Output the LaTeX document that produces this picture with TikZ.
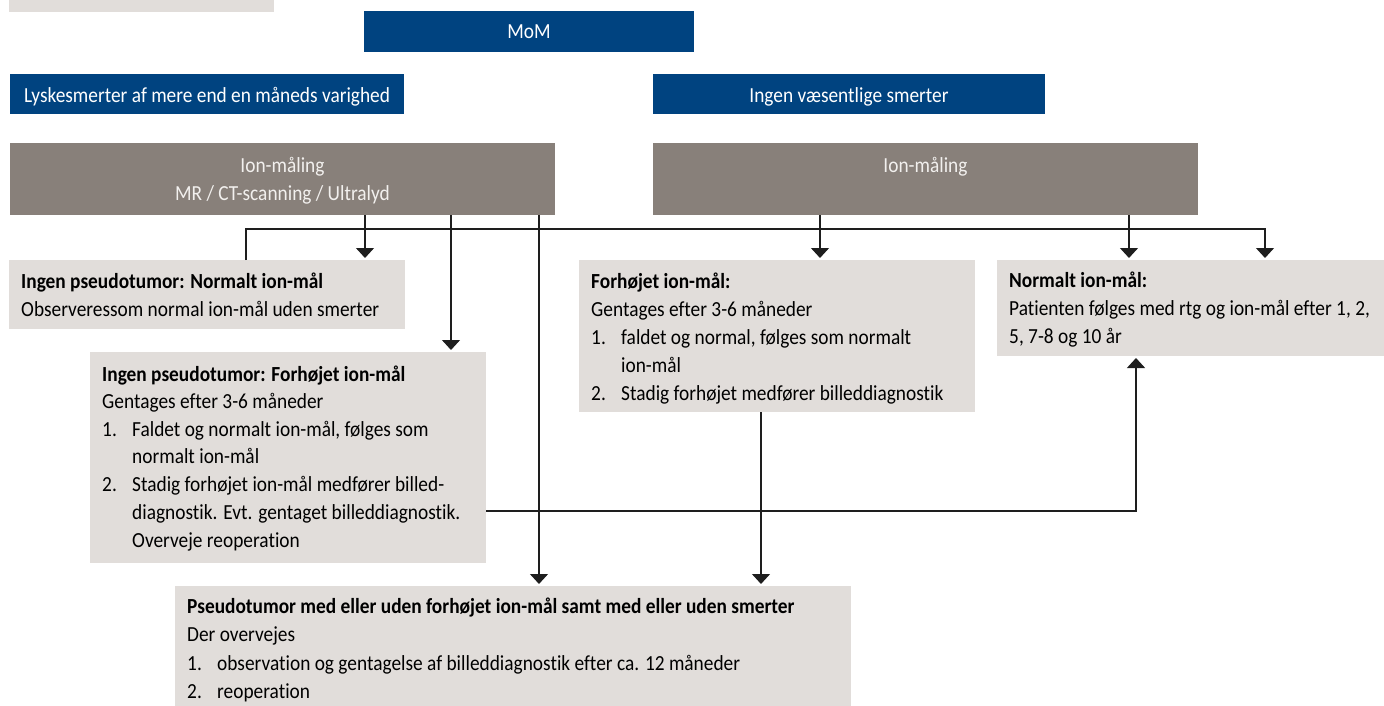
\documentclass[tikz,border=0pt]{standalone}
\usepackage{fontspec}
\setmainfont{Carlito}[FakeStretch=0.9, Ligatures=NoCommon]
\usetikzlibrary{arrows.meta}
\definecolor{rhblue}{RGB}{0,67,128}
\definecolor{rhbrown}{RGB}{136,128,122}
\definecolor{rhgray}{RGB}{225,221,218}
\definecolor{rhlight}{RGB}{242,240,238}
\definecolor{rhline}{RGB}{30,30,30}
\begin{document}
\begin{tikzpicture}[x=1pt,y=-1pt,
  box/.style={rectangle, anchor=north west, inner sep=0pt, outer sep=0pt, draw=none},
  bluebox/.style={box, fill=rhblue},
  brownbox/.style={box, fill=rhbrown},
  graybox/.style={box, fill=rhgray},
  txt/.style={anchor=base west, inner sep=0pt, font=\fontsize{21.5}{28}\selectfont},
  bold/.style={txt, font=\fontsize{21.5}{28}\selectfont\bfseries},
  ctxt/.style={txt, anchor=base},
  wtxt/.style={ctxt, text=white},
  btxt/.style={ctxt, text=rhlight},
  conn/.style={line width=1.2pt, rhline},
  arr/.style={conn, -{Triangle[width=18pt,length=10pt]}, shorten >=2pt},
]
\useasboundingbox (0,0) rectangle (1384,706);

% header boxes
\node[graybox, minimum width=265pt, minimum height=12pt] (topbox) at (9,0) {};
\node[bluebox, minimum width=330pt, minimum height=41pt] (mom) at (364,11) {};
\node[wtxt] (momt) at (529,39) {MoM};
\node[bluebox, minimum width=394pt, minimum height=40pt] (blueL) at (10,74) {};
\node[wtxt] (blueLt) at (207,103) {Lyskesmerter af mere end en måneds varighed};
\node[bluebox, minimum width=392pt, minimum height=40pt] (blueR) at (653,74) {};
\node[wtxt] (blueRt) at (849,103) {Ingen væsentlige smerter};

\node[brownbox, minimum width=545pt, minimum height=72pt] (brownL) at (10,143) {};
\node[btxt] (brownLt1) at (282.5,172) {Ion-måling};
\node[btxt] (brownLt2) at (282.5,200) {MR / CT-scanning / Ultralyd};
\node[brownbox, minimum width=545pt, minimum height=72pt] (brownR) at (653,143) {};
\node[btxt] (brownRt) at (925.5,172) {Ion-måling};

% box A
\node[graybox, minimum width=396pt, minimum height=69pt] (boxA) at (9,260) {};
\node[bold] (boxAt1) at (21,288) {Ingen pseudotumor: Normalt ion-mål};
\node[txt] (boxAt2) at (21,316) {Observeressom normal ion-mål uden smerter};

% box B
\node[graybox, minimum width=396pt, minimum height=211pt] (boxB) at (90,352) {};
\node[bold] (boxBt1) at (102,381) {Ingen pseudotumor: Forhøjet ion-mål};
\node[txt] (boxBt2) at (102,408) {Gentages efter 3-6 måneder};
\node[txt] (boxBn1) at (102,436) {1.};
\node[txt] (boxBt3) at (132,436) {Faldet og normalt ion-mål, følges som};
\node[txt] (boxBt4) at (132,463) {normalt ion-mål};
\node[txt] (boxBn2) at (102,491) {2.};
\node[txt] (boxBt5) at (132,491) {Stadig forhøjet ion-mål medfører billed-};
\node[txt] (boxBt6) at (132,519) {diagnostik. Evt. gentaget billeddiagnostik.};
\node[txt] (boxBt7) at (132,547) {Overveje reoperation};

% Forhøjet box
\node[graybox, minimum width=396pt, minimum height=152pt] (forh) at (579,260) {};
\node[bold] (forht1) at (591,288) {Forhøjet ion-mål:};
\node[txt] (forht2) at (591,316) {Gentages efter 3-6 måneder};
\node[txt] (forhn1) at (591,344) {1.};
\node[txt] (forht3) at (621,344) {faldet og normal, følges som normalt};
\node[txt] (forht4) at (621,372) {ion-mål};
\node[txt] (forhn2) at (591,400) {2.};
\node[txt] (forht5) at (621,400) {Stadig forhøjet medfører billeddiagnostik};

% Normalt box
\node[graybox, minimum width=387pt, minimum height=96pt] (normR) at (997,260) {};
\node[bold] (normt1) at (1009,287) {Normalt ion-mål:};
\node[txt] (normt2) at (1009,315) {Patienten følges med rtg og ion-mål efter 1, 2,};
\node[txt] (normt3) at (1009,343) {5, 7-8 og 10 år};

% Pseudotumor box
\node[graybox, minimum width=676pt, minimum height=120pt] (pseudo) at (175,586) {};
\node[bold] (pseut1) at (187,613) {Pseudotumor med eller uden forhøjet ion-mål samt med eller uden smerter};
\node[txt] (pseut2) at (187,641) {Der overvejes};
\node[txt] (pseun1) at (187,670) {1.};
\node[txt] (pseut3) at (217,670) {observation og gentagelse af billeddiagnostik efter ca. 12 måneder};
\node[txt] (pseun2) at (187,698) {2.};
\node[txt] (pseut4) at (217,698) {reoperation};

% connector guides
\coordinate (yh) at (0,229);
\coordinate (yb) at (0,511);
\coordinate (xa) at (246,0);
\coordinate (xb) at (365,0);
\coordinate (xc) at (451,0);
\coordinate (xd) at (539,0);
\coordinate (xe) at (761,0);
\coordinate (xf) at (820,0);
\coordinate (xg) at (1129,0);
\coordinate (xh) at (1265,0);
\coordinate (xi) at (1136,0);

\draw[arr] (brownL.south -| xb) -- (boxA.north -| xb);
\draw[arr] (brownL.south -| xc) -- (boxB.north -| xc);
\draw[arr] (brownL.south -| xd) -- (pseudo.north -| xd);
\draw[arr] (brownR.south -| xf) -- (forh.north -| xf);
\draw[arr] (brownR.south -| xg) -- (normR.north -| xg);
\draw[arr] (boxA.north -| xa) -- (xa |- yh) -- (xh |- yh) -- (normR.north -| xh);
\draw[arr] (forh.south -| xe) -- (pseudo.north -| xe);
\draw[arr] (boxB.east |- yb) -| (normR.south -| xi);
\end{tikzpicture}
\end{document}
